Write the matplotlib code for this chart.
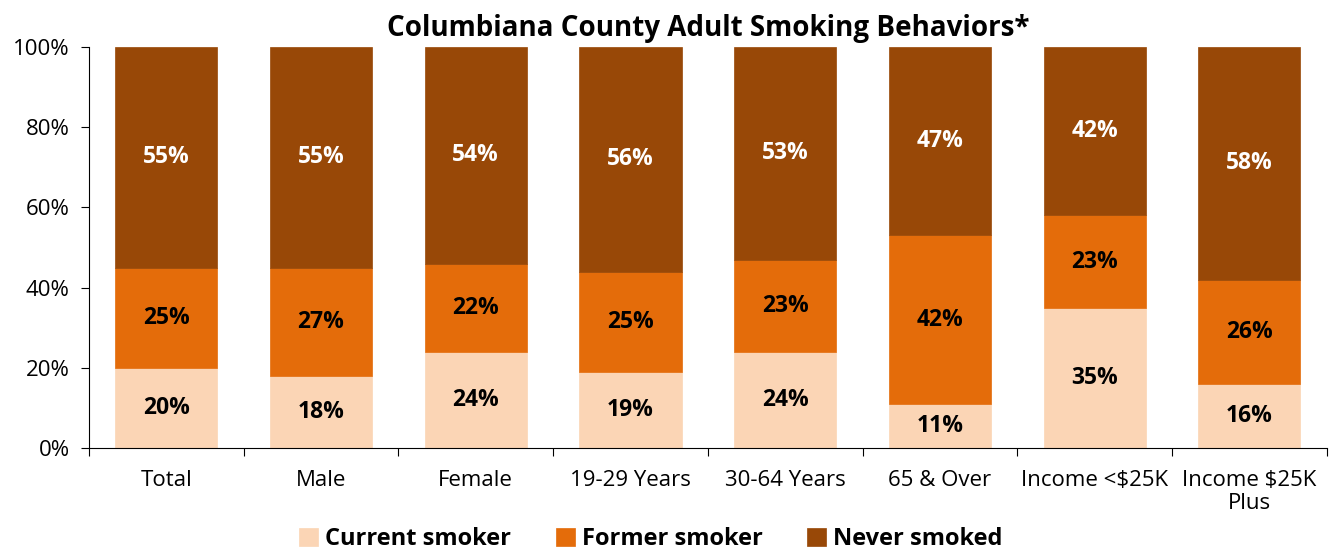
import numpy as np
import matplotlib.pyplot as plt

plt.rcParams['font.family'] = ['Open Sans', 'DejaVu Sans']

# data
categories = ["Total", "Male", "Female", "19-29 Years", "30-64 Years",
              "65 & Over", "Income <$25K", "Income $25K\nPlus"]
current = [20, 18, 24, 19, 24, 11, 35, 16]
former = [25, 27, 22, 25, 23, 42, 23, 26]
never = [55, 55, 54, 56, 53, 47, 42, 58]

series = [("Current smoker", current, "#FBD5B5", "black"),
          ("Former smoker", former, "#E46C0A", "black"),
          ("Never smoked", never, "#984807", "white")]

fig = plt.figure(figsize=(13.32, 5.54), dpi=100)
ax = fig.add_axes([0.0668, 0.1913, 0.9292, 0.7239])

x = np.arange(len(categories))
bottom = np.zeros(len(categories))
for name, vals, color, tcolor in series:
    vals = np.array(vals, dtype=float)
    ax.bar(x, vals, 0.66, bottom=bottom, color=color, label=name,
           edgecolor=color, linewidth=0.5)
    for xi, b, v in zip(x, bottom, vals):
        ax.text(xi, b + v / 2, f"{int(v)}%", ha="center", va="center",
                fontsize=16.5, fontweight="bold", color=tcolor)
    bottom += vals

ax.set_ylim(0, 100)
ax.set_yticks(range(0, 101, 20))
ax.set_yticklabels([f"{v}%" for v in range(0, 101, 20)], fontsize=16)
ax.set_xlim(-0.5, len(categories) - 0.5)
ax.set_xticks(np.arange(-0.5, len(categories), 1.0))
ax.set_xticklabels([])
ax.set_xticks(x, minor=True)
ax.set_xticklabels(categories, minor=True, fontsize=16, linespacing=1.1)
ax.tick_params(axis="x", which="minor", length=0, pad=16)
ax.tick_params(axis="x", which="major", length=6, direction="out")
ax.tick_params(axis="y", length=6, pad=8)
for s in ["top", "right"]:
    ax.spines[s].set_visible(False)

ax.set_title("Columbiana County Adult Smoking Behaviors*", fontsize=20,
             fontweight="bold", pad=8)

ax.legend(loc="center", bbox_to_anchor=(0.454, -0.227), ncol=3,
          frameon=False, prop={"size": 17, "weight": "bold"},
          handlelength=0.8, handleheight=0.8, handletextpad=0.3,
          columnspacing=1.9, borderpad=0)

fig.savefig("out.png", dpi=100)
